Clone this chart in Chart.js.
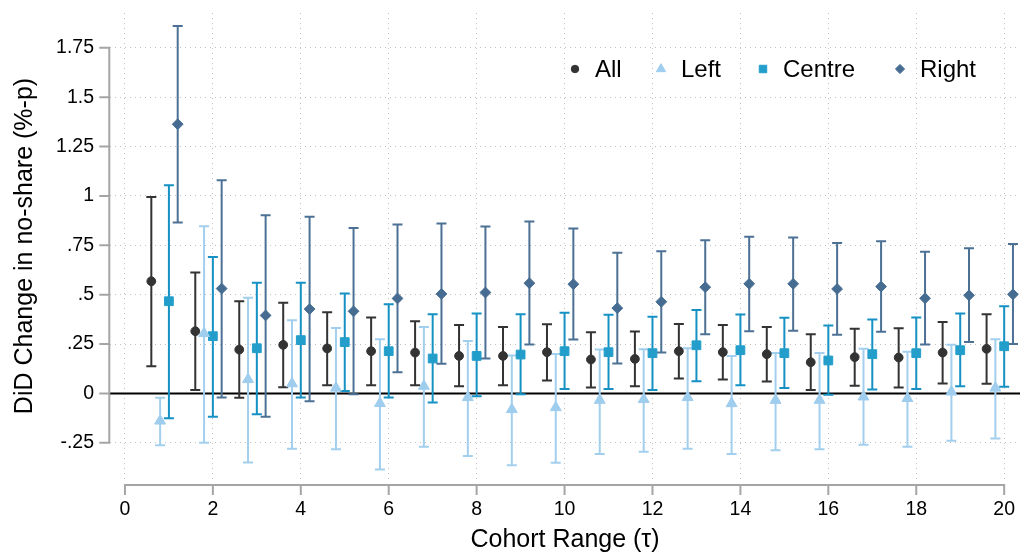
<!DOCTYPE html>
<html>
<head>
<meta charset="utf-8">
<script src="https://cdn.jsdelivr.net/npm/chart.js@4.4.0/dist/chart.umd.min.js"></script>
<style>
  html, body { margin: 0; padding: 0; background: #fff; }
</style>
</head>
<body>
<canvas id="myChart" width="1033" height="555"></canvas>
<script>
// cohort ranges
const tau = [1, 2, 3, 4, 5, 6, 7, 8, 9, 10, 11, 12, 13, 14, 15, 16, 17, 18, 19, 20];

// point estimates and 95% bounds per group
const allEst = [0.568, 0.315, 0.222, 0.246, 0.228, 0.214, 0.207, 0.190, 0.190, 0.209, 0.172, 0.175, 0.214, 0.209, 0.199, 0.158, 0.184, 0.182, 0.207, 0.226];
const allLo  = [0.138, 0.017, -0.022, 0.032, 0.042, 0.042, 0.042, 0.037, 0.042, 0.066, 0.030, 0.037, 0.076, 0.071, 0.061, 0.017, 0.039, 0.030, 0.051, 0.049];
const allHi  = [0.995, 0.612, 0.467, 0.459, 0.411, 0.385, 0.366, 0.346, 0.337, 0.351, 0.310, 0.314, 0.352, 0.347, 0.337, 0.300, 0.327, 0.330, 0.362, 0.401];

const leftEst = [-0.139, 0.304, 0.071, 0.050, 0.028, -0.050, 0.037, -0.020, -0.081, -0.071, -0.034, -0.030, -0.020, -0.051, -0.034, -0.034, -0.017, -0.025, 0.008, 0.028];
const leftLo  = [-0.262, -0.250, -0.349, -0.280, -0.282, -0.385, -0.270, -0.316, -0.364, -0.351, -0.307, -0.295, -0.280, -0.307, -0.287, -0.282, -0.260, -0.270, -0.240, -0.228];
const leftHi  = [-0.022, 0.847, 0.484, 0.371, 0.332, 0.275, 0.337, 0.265, 0.192, 0.200, 0.223, 0.224, 0.229, 0.190, 0.205, 0.205, 0.226, 0.211, 0.246, 0.275];

const centreEst = [0.467, 0.290, 0.229, 0.270, 0.260, 0.214, 0.177, 0.190, 0.197, 0.214, 0.209, 0.204, 0.244, 0.219, 0.204, 0.167, 0.199, 0.204, 0.219, 0.239];
const centreLo  = [-0.125, -0.118, -0.105, -0.020, 0.013, -0.020, -0.046, -0.014, -0.004, 0.022, 0.022, 0.018, 0.062, 0.042, 0.028, -0.007, 0.020, 0.023, 0.037, 0.034];
const centreHi  = [1.054, 0.691, 0.560, 0.560, 0.506, 0.452, 0.401, 0.405, 0.401, 0.408, 0.398, 0.388, 0.423, 0.400, 0.383, 0.344, 0.374, 0.385, 0.405, 0.442];

const rightEst = [1.363, 0.531, 0.395, 0.427, 0.416, 0.481, 0.504, 0.511, 0.558, 0.553, 0.432, 0.464, 0.538, 0.555, 0.555, 0.529, 0.541, 0.482, 0.497, 0.502];
const rightLo  = [0.865, -0.020, -0.118, -0.039, -0.004, 0.108, 0.150, 0.177, 0.248, 0.273, 0.152, 0.207, 0.300, 0.315, 0.317, 0.297, 0.312, 0.248, 0.260, 0.250];
const rightHi  = [1.860, 1.079, 0.902, 0.894, 0.837, 0.855, 0.860, 0.845, 0.870, 0.835, 0.712, 0.720, 0.776, 0.793, 0.790, 0.762, 0.771, 0.717, 0.735, 0.756];

const seriesNames = ['All', 'Left', 'Centre', 'Right'];

const xTicks = [0, 2, 4, 6, 8, 10, 12, 14, 16, 18, 20];
const xTickLabels = ['0', '2', '4', '6', '8', '10', '12', '14', '16', '18', '20'];
const yTicks = [-0.25, 0, 0.25, 0.5, 0.75, 1, 1.25, 1.5, 1.75];
const yTickLabels = ['-.25', '0', '.25', '.5', '.75', '1', '1.25', '1.5', '1.75'];

const FONT = "'Liberation Sans', Arial, Helvetica, sans-serif";
const AXIS_GREY = '#a5a5a5';

function makeSeries(name, est, lo, hi, dodge, style) {
  return {
    label: name,
    data: tau.map((t, i) => ({ x: t + dodge, y: est[i], lo: lo[i], hi: hi[i] })),
    pointStyle: style.shape,
    pointRadius: style.r,
    pointHoverRadius: style.r,
    pointBackgroundColor: style.fill,
    pointBorderColor: style.fill,
    pointBorderWidth: 1,
    barColor: style.bar,
    showLine: false
  };
}

const datasets = [
  makeSeries(seriesNames[0], allEst, allLo, allHi, -0.4, { shape: 'circle', r: 4.4, fill: '#333333', bar: '#333333' }),
  makeSeries(seriesNames[1], leftEst, leftLo, leftHi, -0.2, { shape: 'triangle', r: 6.3, fill: '#9fcdee', bar: '#a3cfee' }),
  makeSeries(seriesNames[2], centreEst, centreLo, centreHi, 0, { shape: 'rect', r: 6.2, fill: '#239ecb', bar: '#1591c3' }),
  makeSeries(seriesNames[3], rightEst, rightLo, rightHi, 0.2, { shape: 'rectRot', r: 5.4, fill: '#466d91', bar: '#4c7194' })
];

// zero reference line + confidence intervals under the markers
const errorBars = {
  id: 'errorBars',
  beforeDatasetsDraw(chart) {
    const { ctx, chartArea, scales: { x, y } } = chart;
    ctx.save();
    const y0 = y.getPixelForValue(0);
    ctx.strokeStyle = '#000';
    ctx.lineWidth = 2;
    ctx.beginPath();
    ctx.moveTo(chartArea.left, y0);
    ctx.lineTo(chartArea.right, y0);
    ctx.stroke();

    chart.data.datasets.forEach(ds => {
      ctx.strokeStyle = ds.barColor;
      ctx.lineWidth = 2;
      ds.data.forEach(p => {
        const px = x.getPixelForValue(p.x);
        const pl = y.getPixelForValue(p.lo);
        const ph = y.getPixelForValue(p.hi);
        ctx.beginPath();
        ctx.moveTo(px, pl); ctx.lineTo(px, ph);
        ctx.moveTo(px - 5, pl); ctx.lineTo(px + 5, pl);
        ctx.moveTo(px - 5, ph); ctx.lineTo(px + 5, ph);
        ctx.stroke();
      });
    });
    ctx.restore();
  }
};

// stata-style axis lines that only span the tick range
const axisLines = {
  id: 'axisLines',
  afterDraw(chart) {
    const { ctx, chartArea, scales: { x, y } } = chart;
    ctx.save();
    ctx.strokeStyle = AXIS_GREY;
    ctx.lineWidth = 2;
    const ax = chartArea.left - 0.7;
    const yTop = y.getPixelForValue(yTicks[yTicks.length - 1]);
    const yBot = y.getPixelForValue(yTicks[0]);
    ctx.beginPath();
    ctx.moveTo(ax, yTop - 1); ctx.lineTo(ax, yBot + 1);
    yTicks.forEach(v => {
      const py = y.getPixelForValue(v);
      ctx.moveTo(ax, py); ctx.lineTo(ax - 10, py);
    });
    const ay = chartArea.bottom + 6;
    const xL = x.getPixelForValue(xTicks[0]);
    const xR = x.getPixelForValue(xTicks[xTicks.length - 1]);
    ctx.moveTo(xL - 1, ay); ctx.lineTo(xR + 1, ay);
    xTicks.forEach(v => {
      const px = x.getPixelForValue(v);
      ctx.moveTo(px, ay); ctx.lineTo(px, ay + 10);
    });
    ctx.stroke();
    ctx.restore();
  }
};

// legend inside the plot, top right
const innerLegend = {
  id: 'innerLegend',
  afterDraw(chart) {
    const ctx = chart.ctx;
    const markerX = [575, 661, 763, 900];
    const yMid = 69;
    ctx.save();
    ctx.font = '24px ' + FONT;
    ctx.textBaseline = 'middle';
    chart.data.datasets.forEach((ds, i) => {
      ctx.fillStyle = ds.pointBackgroundColor;
      ctx.strokeStyle = ds.pointBackgroundColor;
      ctx.lineWidth = 1;
      Chart.helpers.drawPoint(ctx, {
        pointStyle: ds.pointStyle,
        radius: ds.pointRadius * 0.85,
        rotation: 0,
        borderWidth: 1
      }, markerX[i], yMid);
      ctx.fillStyle = '#000';
      ctx.fillText(ds.label, markerX[i] + 20, yMid + 1);
    });
    ctx.restore();
  }
};

function noEdgePadding(scale) {
  scale.paddingTop = 0;
  scale.paddingBottom = 0;
  scale.paddingLeft = 0;
  scale.paddingRight = 0;
}

new Chart(document.getElementById('myChart'), {
  type: 'scatter',
  data: { datasets },
  options: {
    responsive: false,
    animation: false,
    devicePixelRatio: 1,
    layout: { padding: { top: 13, right: 13, left: 0, bottom: 0 } },
    plugins: {
      legend: { display: false },
      tooltip: { enabled: false }
    },
    scales: {
      x: {
        type: 'linear',
        min: -0.34,
        max: 20.36,
        afterFit(scale) { scale.height = 76; noEdgePadding(scale); },
        afterBuildTicks(scale) { scale.ticks = xTicks.map(v => ({ value: v })); },
        ticks: {
          padding: 19,
          color: '#000',
          font: { family: FONT, size: 19.5 },
          callback: v => xTickLabels[xTicks.indexOf(v)]
        },
        grid: { color: '#c0c0c0', lineWidth: 1, drawTicks: false },
        border: { display: false, dash: [1, 4] },
        title: {
          display: true,
          text: 'Cohort Range (τ)',
          color: '#000',
          font: { family: FONT, size: 25 },
          padding: { top: 0, bottom: 0 }
        }
      },
      y: {
        type: 'linear',
        min: -0.433,
        max: 1.926,
        afterFit(scale) { scale.width = 110; noEdgePadding(scale); },
        afterBuildTicks(scale) { scale.ticks = yTicks.map(v => ({ value: v })); },
        ticks: {
          padding: 16,
          color: '#000',
          font: { family: FONT, size: 19.5 },
          callback: v => yTickLabels[yTicks.indexOf(v)]
        },
        grid: { color: '#c0c0c0', lineWidth: 1, drawTicks: false },
        border: { display: false, dash: [1, 4] },
        title: {
          display: true,
          text: 'DiD Change in no-share (%-p)',
          color: '#000',
          font: { family: FONT, size: 25 },
          padding: { top: 10, bottom: 0 }
        }
      }
    }
  },
  plugins: [errorBars, axisLines, innerLegend]
});
</script>
</body>
</html>
